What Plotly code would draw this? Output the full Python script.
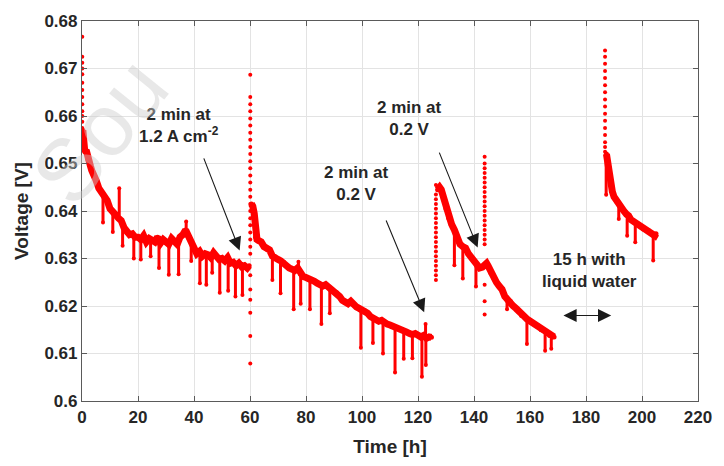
import plotly.graph_objects as go

# ---- data ----
# main band (time [h], voltage [V]) per operating segment
seg1_t = [0.3, 0.6, 1, 1.5, 2, 2.5, 3, 3.5, 4, 5, 6, 7, 8, 9, 10, 11, 12, 13, 14, 15, 16, 17, 18, 19,
          20, 21, 22, 23, 24, 25, 26, 27, 28, 29, 30, 31, 32, 33, 34, 35, 36, 37, 38, 39, 40, 41, 42,
          43, 44, 45, 46, 47, 48, 49, 50, 51, 52, 53, 54, 55, 56, 57, 58, 59, 59.7]
seg1_v = [0.657, 0.6545, 0.6525, 0.6528, 0.651, 0.6502, 0.6495, 0.6485, 0.648, 0.6465, 0.6448, 0.644,
          0.6428, 0.6422, 0.6405, 0.640, 0.6392, 0.6385, 0.638, 0.6365, 0.6355, 0.635, 0.6352, 0.6345,
          0.6345, 0.634, 0.6348, 0.6335, 0.6342, 0.6338, 0.6335, 0.6345, 0.6332, 0.634, 0.6335, 0.633,
          0.6342, 0.6335, 0.633, 0.6345, 0.635, 0.636, 0.6345, 0.6335, 0.632, 0.631, 0.6315, 0.6305,
          0.631, 0.6308, 0.6302, 0.6312, 0.6305, 0.6298, 0.630, 0.6295, 0.6302, 0.629, 0.6292, 0.6285,
          0.629, 0.6283, 0.6285, 0.628, 0.6285]

seg2_t = [60.5, 61, 61.5, 62, 62.5, 63, 64, 65, 66, 67, 68, 69, 70, 71, 72, 73, 74, 75, 76, 77, 78,
          79, 80, 81, 82, 83, 84, 85, 86, 87, 88, 89, 90, 91, 92, 93, 94, 95, 96, 97, 98, 99, 100, 101,
          102, 103, 104, 105, 106, 107, 108, 109, 110, 111, 112, 113, 114, 115, 116, 117, 118, 119,
          120, 121, 122, 123, 124, 124.8]
seg2_v = [0.6415, 0.641, 0.6395, 0.6345, 0.634, 0.6338, 0.6335, 0.6325, 0.632, 0.6318, 0.6305, 0.630,
          0.6298, 0.6295, 0.6292, 0.6285, 0.628, 0.6278, 0.6275, 0.628, 0.6268, 0.6262, 0.626, 0.6258,
          0.6255, 0.6252, 0.6248, 0.6245, 0.6242, 0.6245, 0.624, 0.6235, 0.623, 0.6228, 0.622, 0.6212,
          0.6208, 0.6205, 0.621, 0.6202, 0.6198, 0.6195, 0.6192, 0.619, 0.6185, 0.6178, 0.6175, 0.6172,
          0.6168, 0.617, 0.6165, 0.6162, 0.616, 0.6158, 0.6155, 0.6152, 0.615, 0.6148, 0.6145, 0.6142,
          0.614, 0.6142, 0.6138, 0.6135, 0.6138, 0.6132, 0.6135, 0.6134]

seg3_t = [127, 127.7, 128.3, 129, 130, 131, 132, 133, 134, 135, 136, 137, 138, 139, 140, 141, 142,
          143, 144.5, 145, 146, 147, 148, 149, 150, 151, 152, 153, 154, 155, 156, 157, 158, 159, 160,
          161, 162, 163, 164, 165, 166, 167, 168, 168.6]
seg3_v = [0.6445, 0.645, 0.6445, 0.643, 0.6405, 0.6385, 0.6372, 0.636, 0.6342, 0.633, 0.6325, 0.6322,
          0.631, 0.6302, 0.6295, 0.6285, 0.628, 0.6282, 0.629, 0.6285, 0.627, 0.626, 0.625, 0.6242,
          0.6235, 0.622, 0.6212, 0.621, 0.620, 0.6195, 0.6188, 0.618, 0.6178, 0.6172, 0.6168, 0.6165,
          0.616, 0.6158, 0.615, 0.6148, 0.6142, 0.6138, 0.6135, 0.6135]

seg4_t = [187.3, 187.8, 188.2, 188.8, 189.4, 190, 191, 191.7, 192.5, 193.5, 194.5, 195.2, 196, 197,
          198, 198.8, 199.5, 200.5, 201.5, 202.3, 203, 203.8, 204.6, 205]
seg4_v = [0.652, 0.6495, 0.6483, 0.646, 0.6441, 0.643, 0.642, 0.6414, 0.6405, 0.640, 0.6393, 0.639,
          0.6382, 0.6378, 0.6375, 0.6372, 0.6368, 0.6362, 0.636, 0.6359, 0.6355, 0.635, 0.6348, 0.6352]

# vertical columns of samples (start-up / recovery transients)
col_t = ([0.1] * 13 + [60.1] * 30 + [126.4] * 20 + [143.8] * 22 + [186.8] * 16)
col_v = ([0.6767, 0.6725, 0.6712, 0.670, 0.6688, 0.667, 0.6655, 0.664, 0.6625, 0.661, 0.660, 0.6588, 0.6575] +
         [0.6687, 0.664, 0.6625, 0.661, 0.6595, 0.658, 0.6565, 0.655, 0.6535, 0.652, 0.6505, 0.649,
          0.6475, 0.646, 0.6445, 0.643, 0.6415, 0.640, 0.6385, 0.637, 0.6355, 0.634, 0.6325, 0.631,
          0.6265, 0.6235, 0.6213, 0.6186, 0.6137, 0.6079] +
         [0.6255, 0.6265, 0.6275, 0.6285, 0.6295, 0.6305, 0.6315, 0.6325, 0.6335, 0.6345, 0.6355,
          0.6365, 0.6375, 0.6385, 0.6395, 0.6405, 0.6415, 0.6425, 0.6435, 0.6455] +
         [0.6514, 0.650, 0.649, 0.648, 0.647, 0.646, 0.645, 0.644, 0.643, 0.642, 0.641, 0.640, 0.639,
          0.638, 0.637, 0.636, 0.635, 0.634, 0.633, 0.6245, 0.621, 0.6182] +
         [0.6738, 0.6725, 0.671, 0.6695, 0.668, 0.6665, 0.665, 0.6635, 0.662, 0.6605, 0.659, 0.6575,
          0.656, 0.6545, 0.6535, 0.6525])

# short excursions off the band: time, band level, extreme value
exc_t = [7.5, 11, 13.3, 14.5, 18.5, 21, 24.5, 27.5, 31, 34.5, 37.2, 39, 42.1, 44.4, 46.5, 49.2, 52.2,
         54.8, 57.3, 68, 70.9, 75.6, 77.3, 78.1, 81.4, 85.5, 88.5, 99.6, 103.9, 107.5, 111.8, 114.9,
         118, 121.4, 122.7, 122.8, 133, 136, 140.7, 151.8, 158.9, 165.4, 167.6, 187.2, 191.7, 194.7,
         197.6, 204]
exc_from = [0.6435, 0.640, 0.639, 0.6375, 0.6352, 0.634, 0.6342, 0.6345, 0.633, 0.633, 0.636, 0.6335,
            0.6315, 0.631, 0.6302, 0.6298, 0.6302, 0.6292, 0.6283, 0.6305, 0.6295, 0.6278, 0.628,
            0.6268, 0.6258, 0.6245, 0.624, 0.6195, 0.6178, 0.6168, 0.6158, 0.6148, 0.614, 0.6135,
            0.6138, 0.6138, 0.636, 0.6325, 0.6295, 0.6222, 0.6172, 0.6148, 0.6138, 0.651, 0.6414,
            0.6393, 0.6378, 0.6348]
exc_to = [0.6376, 0.6356, 0.6448, 0.6327, 0.630, 0.6298, 0.6305, 0.628, 0.6266, 0.6267, 0.6378, 0.6295,
          0.6248, 0.6245, 0.627, 0.6228, 0.6232, 0.622, 0.6223, 0.6255, 0.6227, 0.6193, 0.6293, 0.6205,
          0.6193, 0.6162, 0.6185, 0.6112, 0.6122, 0.610, 0.606, 0.6089, 0.609, 0.6051, 0.6162, 0.6076,
          0.6286, 0.6258, 0.6241, 0.6193, 0.612, 0.6106, 0.611, 0.6434, 0.6383, 0.6348, 0.6334, 0.6296]

x_ticks = [0, 20, 40, 60, 80, 100, 120, 140, 160, 180, 200, 220]
y_ticks = [0.6, 0.61, 0.62, 0.63, 0.64, 0.65, 0.66, 0.67, 0.68]
y_tick_text = ["0.6", "0.61", "0.62", "0.63", "0.64", "0.65", "0.66", "0.67", "0.68"]

RED = "#ff0000"
FONT = "Liberation Sans, Arial, sans-serif"
TXT = "#262626"

fig = go.Figure()

for ts, vs in [(seg1_t, seg1_v), (seg2_t, seg2_v), (seg3_t, seg3_v), (seg4_t, seg4_v)]:
    fig.add_trace(go.Scatter(x=ts, y=vs, mode="lines+markers",
                             line=dict(color=RED, width=7),
                             marker=dict(color=RED, size=5), showlegend=False,
                             hoverinfo="skip"))

ex_x, ex_y = [], []
for t, a, b in zip(exc_t, exc_from, exc_to):
    ex_x += [t, t, None]
    ex_y += [a, b, None]
fig.add_trace(go.Scatter(x=ex_x, y=ex_y, mode="lines", line=dict(color=RED, width=3),
                         showlegend=False, hoverinfo="skip"))
fig.add_trace(go.Scatter(x=exc_t, y=exc_to, mode="markers", marker=dict(color=RED, size=4),
                         showlegend=False, hoverinfo="skip"))
fig.add_trace(go.Scatter(x=col_t, y=col_v, mode="markers", marker=dict(color=RED, size=4),
                         showlegend=False, hoverinfo="skip"))

ann_font = dict(family=FONT, size=17, color=TXT, weight="bold")

def arrow(tail, tip, side="end"):
    fig.add_annotation(x=tip[0], y=tip[1], ax=tail[0], ay=tail[1], xref="x", yref="y",
                       axref="x", ayref="y", text="", showarrow=True, arrowhead=2,
                       arrowside=side, arrowsize=2.4, arrowwidth=1.1, arrowcolor="#1a1a1a",
                       standoff=0, startstandoff=0)

fig.add_annotation(x=34.8, y=0.6579, text="2 min at<br>1.2 A cm<sup>-2</sup>", showarrow=False,
                   font=ann_font, xref="x", yref="y")
fig.add_annotation(x=97.9, y=0.6458, text="2 min at<br>0.2 V", showarrow=False,
                   font=ann_font, xref="x", yref="y")
fig.add_annotation(x=116.8, y=0.6594, text="2 min at<br>0.2 V", showarrow=False,
                   font=ann_font, xref="x", yref="y")
fig.add_annotation(x=181.3, y=0.6274, text="15 h with<br>liquid water", showarrow=False,
                   font=ann_font, xref="x", yref="y")

arrow((43.3, 0.6514), (56.3, 0.6317))
arrow((108.4, 0.6383), (122.2, 0.6187))
arrow((127.4, 0.6526), (141.3, 0.6323))
arrow((171.4, 0.618), (189.0, 0.618), side="start+end")

# faint watermark in the top-left corner
fig.add_annotation(x=0.029, y=0.712, xref="paper", yref="paper", text="Sou", showarrow=False,
                   textangle=-51, xanchor="center", yanchor="middle",
                   font=dict(family=FONT, size=88, color="rgba(205,205,205,0.45)"))

axis_common = dict(showgrid=True, gridcolor="#e3e3e3", gridwidth=1, showline=True,
                   linecolor="#5a5a5a", linewidth=1.2, mirror="ticks", ticks="inside",
                   ticklen=5, tickcolor="#5a5a5a", zeroline=False,
                   tickfont=dict(family=FONT, size=17, color=TXT, weight="bold"))

fig.update_xaxes(range=[0, 220], tickvals=x_ticks, ticktext=[str(v) for v in x_ticks],
                 title=dict(text="Time [h]", font=dict(family=FONT, size=19, color=TXT, weight="bold"),
                            standoff=14), **axis_common)
fig.update_yaxes(range=[0.6, 0.68], tickvals=y_ticks, ticktext=y_tick_text,
                 title=dict(text="Voltage [V]", font=dict(family=FONT, size=19, color=TXT, weight="bold"),
                            standoff=10), **axis_common)

fig.update_layout(width=724, height=466, margin=dict(l=82, r=17, t=17, b=63),
                  plot_bgcolor="white", paper_bgcolor="white", showlegend=False)

fig.write_html("out.html")
